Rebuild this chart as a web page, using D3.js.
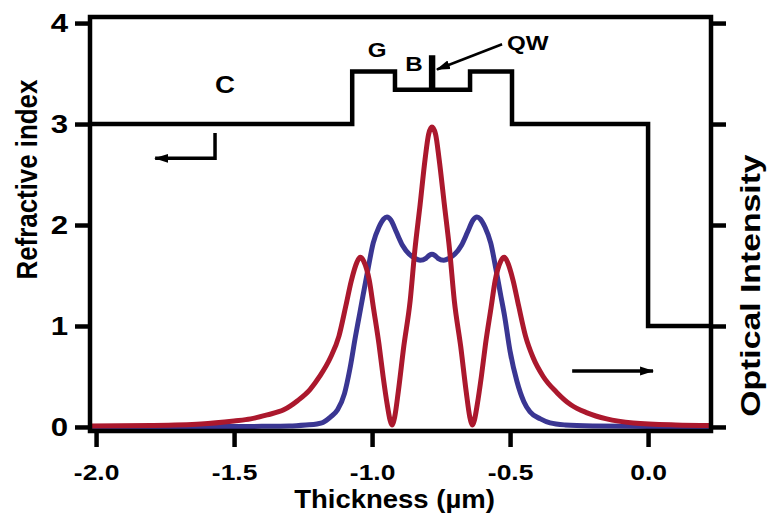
<!DOCTYPE html>
<html>
<head>
<meta charset="utf-8">
<script src="https://cdn.jsdelivr.net/npm/d3@7"></script>
<style>
  body { margin: 0; background: #fff; }
  svg text { font-family: 'Liberation Sans', Arial, Helvetica, sans-serif; font-weight: bold; fill: #000; }
</style>
</head>
<body>
<div id="chart"></div>
<script>
// tick values
const xTicks = [-2.0, -1.5, -1.0, -0.5, 0.0];
const yTicks = [0, 1, 2, 3, 4];
const intensityTicks = [0, 1, 2, 3, 4];

// refractive index step profile (value holds until next x)
const profileX = [-2.022, -1.072, -0.917, -0.786, -0.779, -0.645, -0.493, 0.0, 0.228];
const profileN = [3.0, 3.52, 3.34, 3.66, 3.34, 3.52, 3.0, 1.0, 1.0];

// optical intensity, blue mode
const blueX = [-2.022, -1.6, -1.4, -1.3, -1.24, -1.2, -1.178, -1.15, -1.125, -1.1,
  -1.08, -1.06, -1.045, -1.033, -1.015, -0.996, -0.975, -0.958, -0.946, -0.932,
  -0.912, -0.89, -0.865, -0.845, -0.826, -0.805, -0.793, -0.783, -0.773, -0.761,
  -0.74, -0.721, -0.701, -0.676, -0.654, -0.634, -0.62, -0.608, -0.591, -0.57,
  -0.551, -0.535, -0.52, -0.5, -0.475, -0.45, -0.428, -0.39, -0.355, -0.3,
  -0.2, 0.0, 0.228];
const blueY = [0, 0.003, 0.006, 0.01, 0.02, 0.03, 0.045, 0.1, 0.17, 0.33,
  0.58, 0.9, 1.12, 1.3, 1.56, 1.82, 1.98, 2.06, 2.08, 2.05,
  1.93, 1.8, 1.71, 1.67, 1.65, 1.67, 1.7, 1.71, 1.7, 1.67,
  1.65, 1.67, 1.71, 1.8, 1.93, 2.05, 2.08, 2.06, 1.98, 1.82,
  1.56, 1.32, 1.1, 0.75, 0.45, 0.25, 0.15, 0.08, 0.04, 0.02,
  0.01, 0.005, 0];

// optical intensity, red mode
const redX = [-2.022, -1.8, -1.62, -1.5, -1.44, -1.38, -1.32, -1.27, -1.225, -1.19,
  -1.152, -1.12, -1.095, -1.075, -1.055, -1.043, -1.03, -1.01, -0.995, -0.975,
  -0.96, -0.945, -0.935, -0.928, -0.918, -0.905, -0.885, -0.862, -0.845, -0.826,
  -0.808, -0.795, -0.783, -0.77, -0.757, -0.738, -0.719, -0.702, -0.679, -0.659,
  -0.646, -0.636, -0.629, -0.619, -0.604, -0.589, -0.569, -0.554, -0.534, -0.521,
  -0.509, -0.489, -0.469, -0.444, -0.417, -0.38, -0.33, -0.28, -0.221, -0.15,
  -0.054, 0.1, 0.228];
const redY = [0.01, 0.015, 0.03, 0.06, 0.08, 0.12, 0.17, 0.26, 0.37, 0.5,
  0.68, 0.9, 1.2, 1.45, 1.63, 1.68, 1.64, 1.45, 1.18, 0.82,
  0.5, 0.22, 0.07, 0.02, 0.1, 0.35, 0.8, 1.25, 1.75, 2.2,
  2.65, 2.9, 2.97, 2.9, 2.65, 2.2, 1.75, 1.25, 0.8, 0.35,
  0.1, 0.02, 0.07, 0.22, 0.5, 0.82, 1.18, 1.45, 1.64, 1.68,
  1.63, 1.45, 1.2, 0.9, 0.69, 0.5, 0.34, 0.22, 0.14, 0.08,
  0.04, 0.02, 0.015];

const width = 768;
const height = 517;
const margin = { top: 17, right: 57, bottom: 86, left: 90 };

const svg = d3.select('#chart')
  .append('svg')
  .attr('width', width)
  .attr('height', height);

const x = d3.scaleLinear()
  .domain([-2.022, 0.228])
  .range([margin.left, width - margin.right]);

const y = d3.scaleLinear()
  .domain([-0.04, 4.06])
  .range([height - margin.bottom, margin.top]);

const defs = svg.append('defs');
defs.append('clipPath').attr('id', 'clip')
  .append('rect')
  .attr('x', margin.left)
  .attr('y', margin.top)
  .attr('width', x.range()[1] - x.range()[0])
  .attr('height', y.range()[0] - y.range()[1]);

defs.append('marker')
  .attr('id', 'head')
  .attr('viewBox', '0 -5 14 10')
  .attr('refX', 13)
  .attr('refY', 0)
  .attr('markerUnits', 'userSpaceOnUse')
  .attr('markerWidth', 14)
  .attr('markerHeight', 10)
  .attr('orient', 'auto')
  .append('path')
  .attr('d', 'M0,-4.5L14,0L0,4.5Z')
  .attr('fill', '#000');

// curves
const plot = svg.append('g').attr('clip-path', 'url(#clip)');

const line = d3.line()
  .x(d => x(d[0]))
  .y(d => y(d[1]))
  .curve(d3.curveMonotoneX);

const series = [
  { xs: blueX, ys: blueY, color: '#3a3692' },
  { xs: redX, ys: redY, color: '#ab182d' }
];

series.forEach(s => {
  plot.append('path')
    .datum(s.xs.map((v, i) => [v, s.ys[i]]))
    .attr('fill', 'none')
    .attr('stroke', s.color)
    .attr('stroke-width', 5)
    .attr('stroke-linejoin', 'round')
    .attr('d', line);
});

// index profile
const step = d3.line()
  .x(d => x(d[0]))
  .y(d => y(d[1]))
  .curve(d3.curveStepAfter);

plot.append('path')
  .datum(profileX.map((v, i) => [v, profileN[i]]))
  .attr('fill', 'none')
  .attr('stroke', '#000')
  .attr('stroke-width', 4.5)
  .attr('stroke-linejoin', 'miter')
  .attr('d', step);

// axes
const styleAxis = g => {
  g.select('.domain').remove();
  g.selectAll('.tick line').attr('stroke', '#000').attr('stroke-width', 4.5);
  g.selectAll('.tick text').attr('font-size', 23);
};

svg.append('g')
  .attr('transform', `translate(${margin.left},0)`)
  .call(d3.axisLeft(y).tickValues(yTicks).tickSize(15).tickFormat(d => String(d)))
  .call(styleAxis)
  .call(g => g.selectAll('.tick text')
    .attr('x', null)
    .attr('font-size', 26)
    .attr('transform', 'translate(-22,0) scale(1.2,1)'));

svg.append('g')
  .attr('transform', `translate(${x.range()[1]},0)`)
  .call(d3.axisRight(y).tickValues(intensityTicks).tickSize(15).tickFormat(''))
  .call(styleAxis);

svg.append('g')
  .attr('transform', `translate(0,${y.range()[0]})`)
  .call(d3.axisBottom(x).tickValues(xTicks).tickSize(16).tickPadding(17).tickFormat(d => d.toFixed(1)))
  .call(styleAxis)
  .call(g => g.selectAll('.tick text')
    .attr('font-size', 22)
    .attr('transform', 'scale(1.2,1)'));

// frame
svg.append('rect')
  .attr('x', x.range()[0])
  .attr('y', y.range()[1])
  .attr('width', x.range()[1] - x.range()[0])
  .attr('height', y.range()[0] - y.range()[1])
  .attr('fill', 'none')
  .attr('stroke', '#000')
  .attr('stroke-width', 4.5);

// axis titles
svg.append('text')
  .attr('transform', `translate(${(x.range()[0] + x.range()[1]) / 2 - 6},508) scale(1.1,1)`)
  .attr('text-anchor', 'middle')
  .attr('font-size', 25)
  .text('Thickness (µm)');

// left title in a narrow face, squeezed to length only if the face is missing
const yTitle = svg.append('text')
  .attr('text-anchor', 'middle')
  .attr('font-size', 29)
  .style('font-family', "'Liberation Sans Narrow', 'Liberation Sans', Arial, sans-serif")
  .text('Refractive index');
const squeeze = Math.min(1, 200 / yTitle.node().getComputedTextLength());
yTitle.attr('transform', `translate(37,${y(2.45)}) rotate(-90) scale(${squeeze},1)`);

svg.append('text')
  .attr('transform', `translate(760,${y(1.4)}) rotate(-90) scale(1.25,1)`)
  .attr('text-anchor', 'middle')
  .attr('font-size', 27)
  .text('Optical Intensity');

// region labels
const labels = [
  { t: 'C', x: -1.533, y: 3.31, size: 24, anchor: 'middle' },
  { t: 'G', x: -0.982, y: 3.66, size: 21, anchor: 'middle' },
  { t: 'B', x: -0.848, y: 3.53, size: 21, anchor: 'middle' },
  { t: 'QW', x: -0.511, y: 3.73, size: 21, anchor: 'start' }
];
labels.forEach(l => {
  svg.append('text')
    .attr('transform', `translate(${x(l.x)},${y(l.y)}) scale(1.15,1)`)
    .attr('text-anchor', l.anchor)
    .attr('font-size', l.size)
    .text(l.t);
});

// arrows
const arrow = (pts, w) => svg.append('path')
  .attr('d', d3.line()(pts.map(p => [x(p[0]), y(p[1])])))
  .attr('fill', 'none')
  .attr('stroke', '#000')
  .attr('stroke-width', w)
  .attr('marker-end', 'url(#head)');

arrow([[-0.529, 3.79], [-0.765, 3.54]], 2.5);
arrow([[-1.569, 2.91], [-1.569, 2.66], [-1.786, 2.66]], 3.5);
arrow([[-0.275, 0.554], [0.018, 0.554]], 3.5);
</script>
</body>
</html>
